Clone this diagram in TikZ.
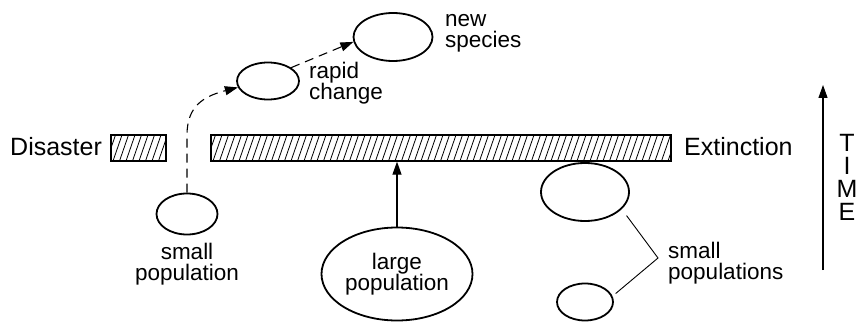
\documentclass[tikz,border=0pt]{standalone}
\usepackage{fontspec}
\setmainfont{Liberation Sans}
\usetikzlibrary{shapes.geometric,arrows.meta}
\begin{document}
\begin{tikzpicture}[x=1pt,y=-1pt,
  pop/.style={draw, ellipse, line width=1.8pt, inner sep=0pt},
  barbox/.style={draw, rectangle, line width=1.3pt, inner sep=0pt, minimum height=26pt},
  hatch/.style={line width=0.8pt},
  lbl/.style={font=\fontsize{22.5}{21}\selectfont, align=center, inner sep=0pt},
  lbll/.style={lbl, align=left},
  big/.style={font=\fontsize{25}{23}\selectfont, inner sep=0pt},
  tip/.style={-{Triangle[length=13pt,width=9pt]}},
  conn/.style={line width=1.1pt, tip},
  dconn/.style={conn, dash pattern=on 9pt off 6pt},
]
\useasboundingbox (0,0) rectangle (858,323);

% bars
\node[barbox, minimum width=55pt] (barL) at (138.5,148) {};
\node[barbox, minimum width=460pt] (barR) at (441,148) {};
\begin{scope}
  \clip (barL.south west) rectangle (barL.north east);
  \foreach \x in {100,106.5,...,180} \draw[hatch] (\x,161) -- ++(9,-26);
\end{scope}
\begin{scope}
  \clip (barR.south west) rectangle (barR.north east);
  \foreach \x in {200,206.5,...,680} \draw[hatch] (\x,161) -- ++(9,-26);
\end{scope}

% populations
\node[pop, minimum width=61pt, minimum height=41pt] (smallL) at (187,214) {};
\node[pop, minimum width=62pt, minimum height=37pt] (rapid) at (268,81) {};
\node[pop, minimum width=79pt, minimum height=48pt] (newsp) at (393,37) {};
\node[pop, minimum width=151pt, minimum height=93pt, lbl] (large) at (397,274) {large\\population};
\node[pop, minimum width=88pt, minimum height=58pt] (bigR) at (585,192) {};
\node[pop, minimum width=56pt, minimum height=37pt] (smallR) at (585,302) {};

% labels (base anchor = baseline of last line)
\node[lbl, anchor=base] (smallLt) at (187,280) {small\\population};
\node[lbll, anchor=base west] (rapidt) at (309,100) {rapid\\change};
\node[lbll, anchor=base west] (newspt) at (445,48) {new\\species};
\node[lbll, anchor=base west] (smallRt) at (668,279) {small\\populations};
\node[big, anchor=base west] (dis) at (10,156) {Disaster};
\node[big, anchor=base west] (ext) at (684,156) {Extinction};
\node[big, align=center, anchor=base] (time) at (847,220) {T\\I\\M\\E};

% connectors
\coordinate (bend) at (187,135);
\draw[dconn] (smallL.north) -- (bend) .. controls (187,105) and (205,96) .. (rapid.192);
\draw[dconn] (rapid.30) -- (newsp.187);
\draw[conn] (large.north) -- (large.north |- barR.south);
\coordinate (brk) at (658,258);
\draw[line width=0.9pt, shorten <=8pt, shorten >=4pt] (bigR.-25) -- (brk) -- (smallR.12);
\coordinate (tbot) at (823,270);
\coordinate (ttop) at (823,85);
\draw[conn] (tbot) -- (ttop);
\end{tikzpicture}
\end{document}
